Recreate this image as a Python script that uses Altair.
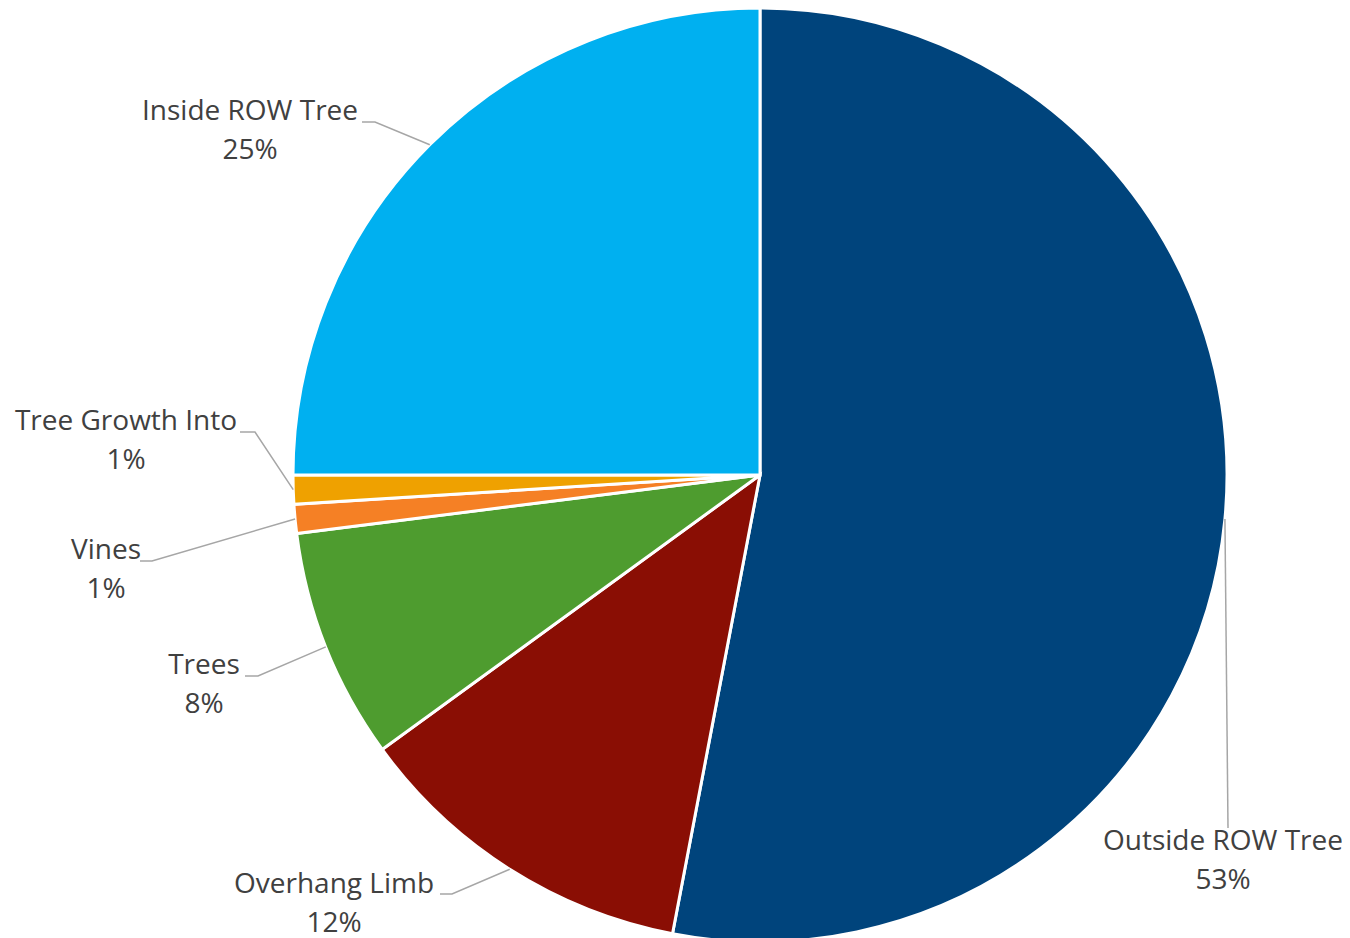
import math
import altair as alt
import pandas as pd

# ---- data ----
categories = ["Outside ROW Tree", "Overhang Limb", "Trees", "Vines", "Tree Growth Into", "Inside ROW Tree"]
percents = [53, 12, 8, 1, 1, 25]
colors = ["#00447C", "#8A0E04", "#4E9C2F", "#F58025", "#EFA100", "#00B0F0"]

# ---- layout (chart pixel coords) ----
W, H = 1334, 930
CX, CY, R = 752, 467, 467
# label centre (x, y of name line), leader elbow, leader end
label_layout = {
    "Outside ROW Tree": dict(tx=1215, ty=834, elbow=(1220, 820), end=(1220, 820)),
    "Overhang Limb": dict(tx=326, ty=877, elbow=(444, 886), end=(432, 886)),
    "Trees": dict(tx=196, ty=658, elbow=(250, 668), end=(237, 668)),
    "Vines": dict(tx=98, ty=543, elbow=(144, 553), end=(132, 553)),
    "Tree Growth Into": dict(tx=118, ty=414, elbow=(247, 424), end=(232, 424)),
    "Inside ROW Tree": dict(tx=242, ty=104, elbow=(367, 114), end=(354, 114)),
}
LINE_GAP = 39

pie_df = pd.DataFrame({"cat": categories, "pct": percents, "idx": list(range(len(categories)))})

total = sum(percents)
cum = 0
lab_rows, line_rows = [], []
for c, p in zip(categories, percents):
    mid = (cum + p / 2) / total * 2 * math.pi
    cum += p
    ax = CX + R * math.sin(mid)
    ay = CY - R * math.cos(mid)
    L = label_layout[c]
    lab_rows.append(dict(cat=c, x=L["tx"], y=L["ty"], text=c))
    lab_rows.append(dict(cat=c, x=L["tx"], y=L["ty"] + LINE_GAP, text=f"{p}%"))
    pts = [(ax, ay), L["elbow"], L["end"]]
    for i, (px, py) in enumerate(pts):
        line_rows.append(dict(cat=c, seq=i, x=px, y=py))

lab_df = pd.DataFrame(lab_rows)
line_df = pd.DataFrame(line_rows)

xs = alt.Scale(domain=[0, W], range=[0, W])
ys = alt.Scale(domain=[0, H], range=[0, H])

pie = alt.Chart(pie_df).mark_arc(stroke="white", strokeWidth=3).encode(
    theta=alt.Theta("pct:Q", stack=True),
    color=alt.Color("cat:N", scale=alt.Scale(domain=categories, range=colors), legend=None),
    order=alt.Order("idx:Q"),
    x=alt.value(CX),
    y=alt.value(CY),
    radius=alt.value(R),
)

lines = alt.Chart(line_df).mark_line(color="#A6A6A6", strokeWidth=1.5).encode(
    x=alt.X("x:Q", scale=xs, axis=None),
    y=alt.Y("y:Q", scale=ys, axis=None),
    detail="cat:N",
    order="seq:Q",
)

texts = alt.Chart(lab_df).mark_text(
    font="Open Sans", fontSize=28, color="#404040", align="center", baseline="middle"
).encode(
    x=alt.X("x:Q", scale=xs, axis=None),
    y=alt.Y("y:Q", scale=ys, axis=None),
    text="text:N",
)

chart = alt.layer(pie, lines, texts).properties(
    width=W, height=H, padding=0, autosize="none"
).configure(background="white").configure_view(stroke=None, strokeWidth=0)

chart.save("out.html", embed_options={"renderer": "svg", "actions": False})
